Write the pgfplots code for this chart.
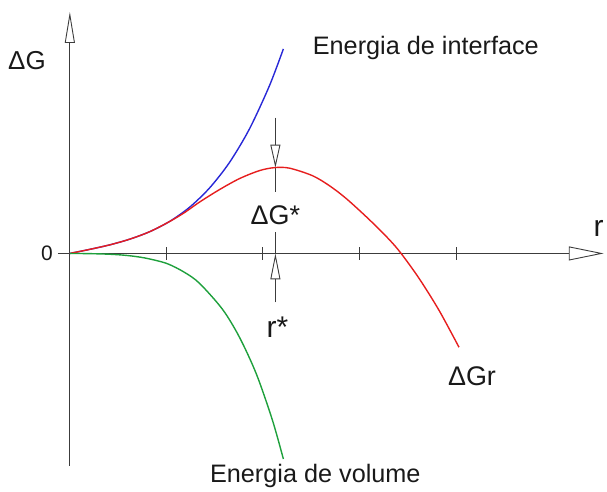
\documentclass[border=0pt]{standalone}
\usepackage{pgfplots}
\pgfplotsset{compat=1.18}
\usepackage{fontspec}
\setmainfont{Liberation Sans}
\usetikzlibrary{arrows.meta}
\definecolor{cblue}{RGB}{40,40,215}
\definecolor{cred}{RGB}{230,30,30}
\definecolor{cgreen}{RGB}{30,160,60}
\definecolor{axgray}{RGB}{60,60,60}
\definecolor{txt}{RGB}{25,25,25}
\begin{document}
\begin{tikzpicture}
\begin{axis}[
  x=1pt, y=1pt,
  axis lines=middle,
  xmin=-12, xmax=535, ymin=-213, ymax=242,
  clip=false,
  axis line style={axgray, line width=0.9pt},
  x axis line style={-{Triangle[open,length=35pt,width=14pt]}},
  y axis line style={-{Triangle[open,length=31pt,width=10pt]}},
  xtick={97,193,290,387}, xticklabels={},
  ytick=\empty,
  major tick length=13pt,
  tick align=center,
  tick style={axgray, line width=0.9pt},
]
\addplot[axgray, line width=0.9pt, -{Triangle[open,length=23pt,width=10pt]}] coordinates {(206,136) (206,86)};
\addplot[axgray, line width=0.9pt] coordinates {(206,86) (206,62)};
\addplot[axgray, line width=0.9pt, -{Triangle[open,length=26pt,width=10pt]}] coordinates {(206,-49) (206,0)};
\addplot[axgray, line width=0.9pt] coordinates {(206,0) (206,21)};

\addplot[cblue, line width=1.4pt, smooth] coordinates {
(0,0) (20,4.1) (40,8.6) (60,14.3) (80,21.8) (100,32.1) (120,46.3) (140,65.6) (160,91.2) (180,124.8) (200,168) (214,205)};
\addplot[cred, line width=1.4pt, smooth] coordinates {
(0,0) (20,4.1) (40,8.6) (60,14.3) (80,21.8) (100,32) (115,41) (130,51.5) (150,64) (170,75) (190,83) (205,86) (220,85.5) (243,78) (260,68) (277,55) (300,34) (320,14) (332,0) (350,-25) (370,-57) (390,-94)};
\addplot[cgreen, line width=1.4pt, smooth] coordinates {
(0,0) (20,-0.2) (40,-0.8) (57,-2) (75,-4.5) (97,-10) (115,-19) (130,-30) (153,-56) (170,-84) (187,-121) (203,-167) (214,-206)};

\node[txt, font=\fontsize{26}{30}\selectfont] at (axis cs:-43,193) {ΔG};
\node[txt, font=\fontsize{21}{25}\selectfont] at (axis cs:-23,0) {0};
\node[txt, font=\fontsize{30}{34}\selectfont, anchor=base] at (axis cs:530,17) {r};
\node[txt, font=\fontsize{25.3}{29}\selectfont, anchor=west] at (axis cs:240,206) {Energia de interface};
\node[txt, font=\fontsize{27}{31}\selectfont] at (axis cs:206,38) {ΔG*};
\node[txt, font=\fontsize{30}{34}\selectfont, anchor=base] at (axis cs:208,-84) {r*};
\node[txt, font=\fontsize{27}{31}\selectfont] at (axis cs:403,-123) {ΔGr};
\node[txt, font=\fontsize{25.3}{29}\selectfont] at (axis cs:246,-223) {Energia de volume};

\coordinate (bl) at (axis cs:-70,-236);
\coordinate (tr) at (axis cs:537,254);
\end{axis}
\path (bl) rectangle (tr);
\end{tikzpicture}
\end{document}
